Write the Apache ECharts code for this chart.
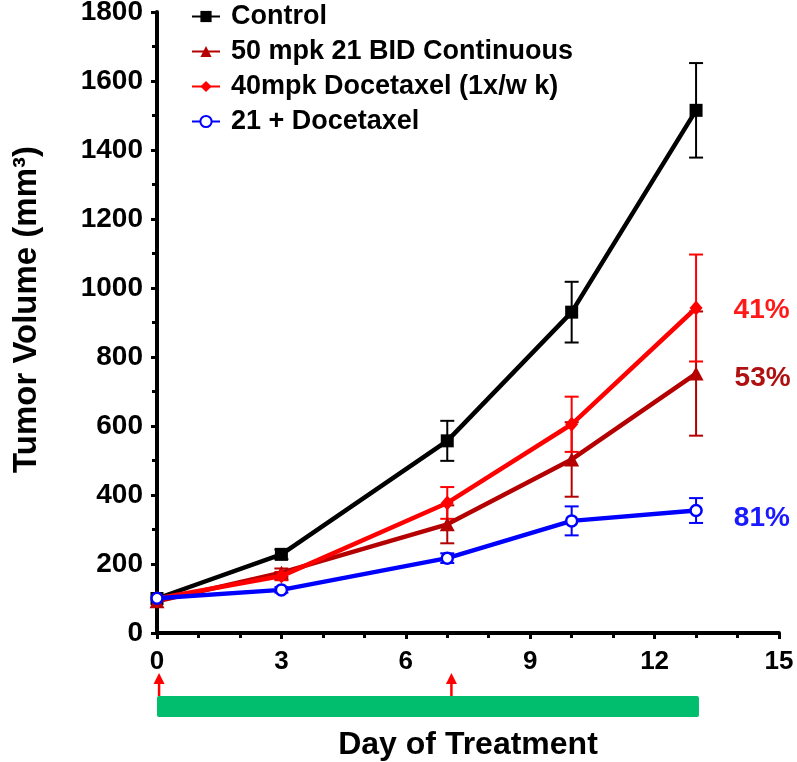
<!DOCTYPE html>
<html>
<head>
<meta charset="utf-8">
<script src="https://cdn.jsdelivr.net/npm/echarts@6/dist/echarts.min.js"></script>
<style>
  html, body { margin: 0; padding: 0; background: #fff; }
  #chart { width: 797px; height: 762px; }
</style>
</head>
<body>
<div id="chart"></div>
<script>
// days of treatment
var days = [0, 3, 7, 10, 13];

// mean tumor volume and error per group
var controlMean = [100, 228, 557, 930, 1515];
var controlErr  = [0, 14, 58, 88, 137];
var bidMean     = [92, 175, 315, 503, 752];
var bidErr      = [0, 12, 55, 108, 180];
var doceMean    = [100, 165, 377, 605, 942];
var doceErr     = [0, 12, 46, 80, 155];
var comboMean   = [101, 125, 217, 325, 355];
var comboErr    = [0, 8, 14, 42, 36];

var names  = ['Control', '50 mpk 21 BID Continuous', '40mpk Docetaxel (1x/w k)', '21 + Docetaxel'];
var pctLabels = [null, '53%', '41%', '81%'];

// treatment period bar and docetaxel dosing arrows (days)
var treatmentSpan = [0, 13.07];
var dosingDays = [0.05, 7.1];

var xTicks = { min: 0, max: 15, interval: 3 };
var yTicks = { min: 0, max: 1800, interval: 200 };

var FONT = 'Liberation Sans';
var colors = ['#000000', '#b40000', '#ff0000', '#0000ff'];
var labelColors = [null, '#b01010', '#ff1a1a', '#1a1aff'];

var chart = echarts.init(document.getElementById('chart'));

function lineData(mean, idx) {
    return days.map(function (d, i) {
	if (i === days.length - 1 && pctLabels[idx]) {
	    return {
		value: [d, mean[i]],
		label: {
		    show: true,
		    position: 'right',
		    distance: 31,
		    offset: idx === 1 ? [0, 5] : (idx === 3 ? [0, 8] : [0, 2]),
		    formatter: pctLabels[idx],
		    fontFamily: FONT,
		    fontWeight: 'bold',
		    fontSize: 28,
		    color: labelColors[idx]
		}
	    };
	}
	return [d, mean[i]];
    });
}

function errData(mean, err) {
    var out = [];
    for (var i = 0; i < days.length; i++) {
	if (err[i] > 0) out.push([days[i], mean[i] - err[i], mean[i] + err[i]]);
    }
    return out;
}

function errRender(color) {
    return function (params, api) {
	var x = api.value(0);
	var lo = api.coord([x, api.value(1)]);
	var hi = api.coord([x, api.value(2)]);
	var hw = 7;
	var st = { stroke: color, lineWidth: 2 };
	return {
	    type: 'group',
	    children: [
		{ type: 'line', shape: { x1: hi[0], y1: hi[1], x2: lo[0], y2: lo[1] }, style: st },
		{ type: 'line', shape: { x1: hi[0] - hw, y1: hi[1], x2: hi[0] + hw, y2: hi[1] }, style: st },
		{ type: 'line', shape: { x1: lo[0] - hw, y1: lo[1], x2: lo[0] + hw, y2: lo[1] }, style: st }
	    ]
	};
    };
}

var means = [controlMean, bidMean, doceMean, comboMean];
var errs = [controlErr, bidErr, doceErr, comboErr];
var symbols = ['rect', 'triangle', 'diamond', 'circle'];
var symbolSizes = [13, [15, 14], [13, 15], 11];

var series = [];
// error bars first so the lines sit on top
for (var k = 0; k < 4; k++) {
    series.push({
	name: 'err' + k,
	type: 'custom',
	xAxisIndex: 0,
	yAxisIndex: 0,
	renderItem: errRender(colors[k]),
	encode: { x: 0, y: [1, 2] },
	data: errData(means[k], errs[k]),
	z: 2
    });
}
for (var k = 0; k < 4; k++) {
    series.push({
	name: names[k],
	type: 'line',
	xAxisIndex: 0,
	yAxisIndex: 0,
	data: lineData(means[k], k),
	symbol: symbols[k],
	symbolSize: symbolSizes[k],
	showAllSymbol: true,
	lineStyle: { color: colors[k], width: 4.5 },
	itemStyle: k === 3
	    ? { color: '#ffffff', borderColor: colors[k], borderWidth: 2.5 }
	    : { color: colors[k] },
	z: 3 + k
    });
}

// green treatment bar under the x axis
series.push({
    name: 'treatment',
    type: 'custom',
    xAxisIndex: 1,
    yAxisIndex: 1,
    data: [[treatmentSpan[0], treatmentSpan[1]]],
    renderItem: function (params, api) {
	var a = api.coord([api.value(0), 28]);
	var b = api.coord([api.value(1), 49]);
	return {
	    type: 'rect',
	    shape: { x: a[0], y: a[1], width: b[0] - a[0], height: b[1] - a[1], r: 2 },
	    style: { fill: '#00be6e' }
	};
    }
});

// red dosing arrows
series.push({
    name: 'dosing',
    type: 'custom',
    xAxisIndex: 1,
    yAxisIndex: 1,
    data: dosingDays.map(function (d) { return [d]; }),
    renderItem: function (params, api) {
	var base = api.coord([api.value(0), 28]);
	var tip = api.coord([api.value(0), 5]);
	return {
	    type: 'group',
	    children: [
		{ type: 'line', shape: { x1: base[0], y1: base[1], x2: tip[0], y2: tip[1] + 8 }, style: { stroke: '#ff0000', lineWidth: 2.5 } },
		{ type: 'polygon', shape: { points: [[tip[0], tip[1]], [tip[0] - 5.5, tip[1] + 11], [tip[0] + 5.5, tip[1] + 11]] }, style: { fill: '#ff0000' } }
	    ]
	};
    }
});

var option = {
    animation: false,
    backgroundColor: '#ffffff',
    legend: {
	data: names,
	orient: 'vertical',
	left: 186,
	top: -2,
	itemWidth: 28,
	itemHeight: 14,
	itemGap: 8,
	textStyle: {
	    fontFamily: FONT,
	    fontWeight: 'bold',
	    fontSize: 27,
	    color: '#000',
	    padding: [0, 0, 0, 6]
	}
    },
    grid: [
	{ left: 157, right: 18, top: 12, bottom: 129, outerBoundsMode: 'none' },
	{ left: 157, right: 18, top: 668, height: 52, outerBoundsMode: 'none' }
    ],
    xAxis: [
	{
	    type: 'value',
	    gridIndex: 0,
	    min: xTicks.min,
	    max: xTicks.max,
	    interval: xTicks.interval,
	    name: 'Day of Treatment',
	    nameLocation: 'middle',
	    nameGap: 96,
	    nameTextStyle: { fontFamily: FONT, fontWeight: 'bold', fontSize: 32, color: '#000' },
	    splitLine: { show: false },
	    axisLine: { lineStyle: { color: '#000', width: 4 } },
	    axisTick: { length: 6, lineStyle: { color: '#000', width: 3 } },
	    minorTick: { show: true, splitNumber: 3, length: 5, lineStyle: { color: '#000', width: 3 } },
	    axisLabel: { margin: 16, fontFamily: FONT, fontWeight: 'bold', fontSize: 26, color: '#000' }
	},
	{
	    type: 'value',
	    gridIndex: 1,
	    min: xTicks.min,
	    max: xTicks.max,
	    show: false
	}
    ],
    yAxis: [
	{
	    type: 'value',
	    gridIndex: 0,
	    min: yTicks.min,
	    max: yTicks.max,
	    interval: yTicks.interval,
	    name: 'Tumor Volume (mm³)',
	    nameLocation: 'middle',
	    nameGap: 114,
	    nameTextStyle: {
		fontFamily: FONT, fontWeight: 'bold', fontSize: 33, color: '#000',
		padding: [0, 0, 0, 26]
	    },
	    splitLine: { show: false },
	    axisLine: { show: true, lineStyle: { color: '#000', width: 4 } },
	    axisTick: { show: true, length: 6, lineStyle: { color: '#000', width: 3 } },
	    minorTick: { show: true, splitNumber: 2, length: 5, lineStyle: { color: '#000', width: 3 } },
	    axisLabel: {
		margin: 14, fontFamily: FONT, fontWeight: 'bold', fontSize: 28, color: '#000',
		formatter: function (v) { return String(v); }
	    }
	},
	{
	    type: 'value',
	    gridIndex: 1,
	    min: 0,
	    max: 52,
	    inverse: true,
	    show: false
	}
    ],
    series: series
};

chart.setOption(option);
</script>
</body>
</html>
